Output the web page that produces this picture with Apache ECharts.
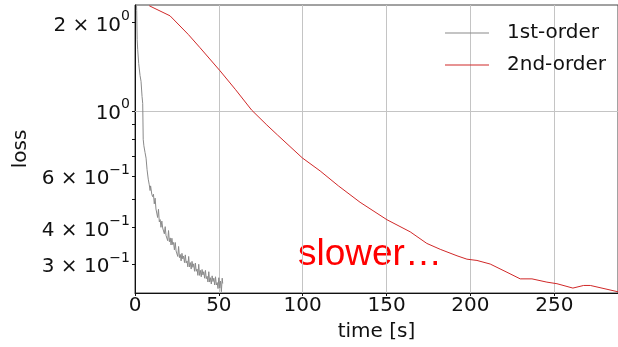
<!DOCTYPE html>
<html>
<head>
<meta charset="utf-8">
<script src="https://cdn.jsdelivr.net/npm/echarts@6/dist/echarts.min.js"></script>
<style>html,body{margin:0;padding:0;background:#fff}#c{width:618px;height:347px}</style>
</head>
<body>
<div id="c"></div>
<script>
const seriesNames = ['1st-order', '2nd-order'];
const time1 = [0.6,1.0,1.3,1.6,2.2,3.0,3.6,4.2,4.6,4.9,5.3,6.0,6.6,7.2,7.9,8.5,9.0,9.3,10.0,10.5,
  11.0,11.5,12.0,12.5,13.0,13.5,14.0,14.5,15.0,15.5,16.0,16.5,17.0,17.5,18.0,18.5,19.0,19.5,20.0,20.5,
  21.0,21.5,22.0,22.5,23.0,23.5,24.0,24.5,25.0,25.5,26.0,26.5,27.0,27.5,28.0,28.5,29.0,29.5,30.0,30.5,
  31.0,31.5,32.0,32.5,33.0,33.5,34.0,34.5,35.0,35.5,36.0,36.5,37.0,37.5,38.0,38.5,39.0,39.5,40.0,40.5,
  41.0,41.5,42.0,42.5,43.0,43.5,44.0,44.5,45.0,45.5,46.0,46.5,47.0,47.5,48.0,48.5,49.0,49.5,50.0,50.5,
  51.0,51.5,52.0,52.3];
const loss1 = [2.6,2.2,1.75,1.62,1.45,1.32,1.26,1.12,1.06,0.80,0.76,0.72,0.69,0.63,0.585,0.56,0.535,0.555,0.52,0.51,
  0.520,0.482,0.504,0.463,0.461,0.433,0.462,0.418,0.426,0.401,0.421,0.399,0.405,0.381,0.403,0.376,0.380,0.361,0.391,0.358,
  0.369,0.349,0.368,0.350,0.356,0.336,0.356,0.333,0.335,0.319,0.345,0.316,0.324,0.308,0.327,0.313,0.320,0.304,0.323,0.303,
  0.308,0.294,0.319,0.294,0.304,0.289,0.307,0.293,0.301,0.284,0.303,0.284,0.289,0.275,0.300,0.275,0.286,0.272,0.288,0.276,
  0.283,0.269,0.286,0.268,0.273,0.261,0.283,0.261,0.270,0.257,0.274,0.262,0.269,0.255,0.272,0.255,0.260,0.248,0.270,0.249,
  0.263,0.242,0.269,0.258];
const time2 = [8.5,20.9,31.8,38.8,50.7,60,69.6,78.6,85,99.8,110.4,121.3,134.2,150.2,164.1,174,182,192,197.9,203.9,211.8,221.8,229.7,236.7,245.6,251.6,261.1,267.5,271.5,288];
const loss2 = [2.28,2.107,1.82,1.64,1.369,1.18,1.005,0.895,0.827,0.691,0.624,0.555,0.488,0.4256,0.387,0.3534,0.3374,0.3207,0.3123,0.3092,0.3006,0.2818,0.2676,0.2676,0.2608,0.2576,0.2489,0.2541,0.2541,0.2418];
const yLabelValues = [0.3, 0.4, 0.6, 1, 2];
const yLabelMantissa = ['3 × 10', '4 × 10', '6 × 10', '10', '2 × 10'];
const yLabelExponent = ['−1', '−1', '−1', '0', '0'];
const yMinorTicks = [0.3, 0.4, 0.5, 0.6, 0.7, 0.8, 0.9, 1, 2];
const annotation = 'slower…';

const chart = echarts.init(document.getElementById('c'), null, {renderer: 'canvas'});
const font = 'DejaVu Sans';
chart.setOption({
  animation: false,
  backgroundColor: '#fff',
  grid: {left: 135, right: 0, top: 5, bottom: 50, show: true, borderColor: '#444', borderWidth: 1},
  legend: {
    orient: 'vertical', left: 445, top: 23, padding: 0, itemWidth: 44, itemHeight: 1, itemGap: 12, icon: 'rect',
    textStyle: {fontFamily: font, fontSize: 20, color: '#111', padding: [0, 0, 0, 13]},
    data: seriesNames
  },
  xAxis: {
    type: 'value', min: 0, max: 288, interval: 50,
    name: 'time [s]', nameLocation: 'middle', nameGap: 29,
    nameTextStyle: {fontFamily: font, fontSize: 20, color: '#111'},
    axisLine: {lineStyle: {color: '#111', width: 1}},
    axisTick: {show: true, length: 3, lineStyle: {color: '#111'}},
    axisLabel: {fontFamily: font, fontSize: 20, color: '#111', margin: 3, showMaxLabel: false},
    splitLine: {show: true, lineStyle: {color: '#c4c4c4', width: 1}}
  },
  yAxis: {
    type: 'log', logBase: 10, min: 0.2395, max: 2.294,
    name: 'loss', nameLocation: 'middle', nameGap: 96, nameRotate: 90,
    nameTextStyle: {fontFamily: font, fontSize: 20, color: '#111'},
    axisLine: {show: true, lineStyle: {color: '#111', width: 1}},
    axisTick: {show: true, length: 3, customValues: yMinorTicks, lineStyle: {color: '#111'}},
    axisLabel: {
      customValues: yLabelValues, margin: 5,
      formatter: function (v) {
        let best = 0;
        yLabelValues.forEach((t, i) => { if (Math.abs(t - v) < Math.abs(yLabelValues[best] - v)) best = i; });
        return '{b|' + yLabelMantissa[best] + '}{s|' + yLabelExponent[best] + '}';
      },
      rich: {
        b: {fontFamily: font, fontSize: 20, color: '#111', lineHeight: 26, verticalAlign: 'bottom'},
        s: {fontFamily: font, fontSize: 14, color: '#111', lineHeight: 26, verticalAlign: 'top'}
      }
    },
    splitLine: {show: false}
  },
  series: [
    {
      name: seriesNames[0], type: 'line', symbol: 'none', z: 3,
      data: time1.map((t, i) => [t, loss1[i]]),
      lineStyle: {color: '#8a8a8a', width: 1}, itemStyle: {color: '#8a8a8a'}
    },
    {
      name: seriesNames[1], type: 'line', symbol: 'none', z: 3,
      data: time2.map((t, i) => [t, loss2[i]]),
      lineStyle: {color: '#d02828', width: 1}, itemStyle: {color: '#d02828'},
      markLine: {
        silent: true, symbol: 'none', label: {show: false},
        lineStyle: {color: '#c4c4c4', width: 1, type: 'solid'},
        data: [{yAxis: 1}], z: 1
      }
    }
  ],
  graphic: [{
    type: 'text', left: 298, top: 236,
    style: {text: annotation, fontFamily: 'Liberation Sans', fontSize: 37, fill: '#ff0000'}
  }]
});
</script>
</body>
</html>
